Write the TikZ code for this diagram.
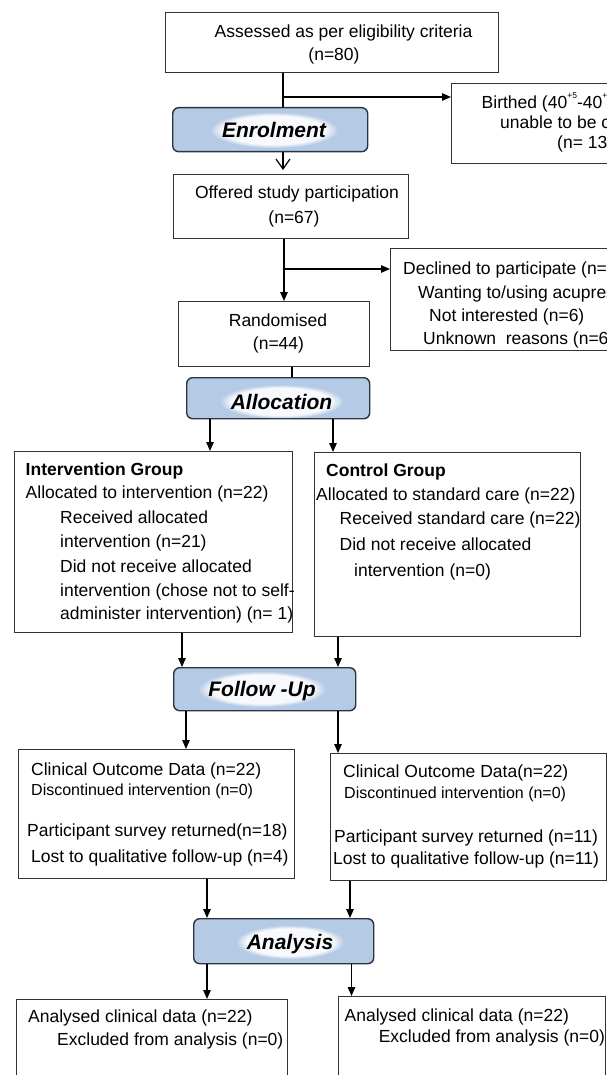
\documentclass[tikz,border=0pt]{standalone}
\usepackage{fontspec}
\setmainfont{Liberation Sans}
\usetikzlibrary{arrows.meta,fadings}
\definecolor{stagefill}{HTML}{B5CAE5}
\definecolor{stageedge}{HTML}{2B3340}
\definecolor{boxedge}{HTML}{333333}
% small raised index used in the gestation range
\newcommand{\gestsup}[1]{\raisebox{0.62em}{\fontsize{8.5}{8.5}\selectfont #1}}

\begin{document}
\begin{tikzpicture}[x=1pt,y=-1pt,
  box/.style 2 args={draw=boxedge, line width=0.9pt, fill=white, anchor=north west,
    inner sep=0pt, minimum width=#1, minimum height=#2},
  stage/.style 2 args={draw=stageedge, line width=1.4pt, fill=stagefill, rounded corners=6pt,
    anchor=north west, inner sep=0pt, minimum width=#1, minimum height=#2},
  stagetxt/.style={font=\fontsize{21}{25}\selectfont\bfseries\itshape, anchor=base, inner sep=0pt},
  glow/.style={white, opacity=0.9, path fading=circle with fuzzy edge 20 percent},
  txt/.style={font=\fontsize{17.5}{21}\selectfont, anchor=base west, inner sep=0pt},
  txtc/.style={txt, anchor=base},
  small/.style={txt, font=\fontsize{16}{19}\selectfont},
  head/.style={txt, font=\fontsize{17.5}{21}\selectfont\bfseries},
  link/.style={line width=1.2pt},
  arr/.style={line width=1.2pt, -{Triangle[length=9pt,width=7.5pt]}},
  barb/.style={line width=1.2pt, -{Straight Barb[length=10pt,width=14pt]}, shorten >=4pt}
]
\fill[white] (0,0) rectangle (607,1075);
\useasboundingbox (0,0) rectangle (607,1075);

% ---------- boxes ----------
\node[box={333pt}{60pt}]    (top)      at (165,12)   {};
\node[box={200pt}{80pt}]    (birthed)  at (451,83)   {};
\node[box={235pt}{64pt}]    (offered)  at (173,174)  {};
\node[box={250pt}{102pt}]   (declined) at (390,248)  {};
\node[box={191pt}{65pt}]    (rand)     at (178,301)  {};
\node[box={278pt}{181pt}]   (interv)   at (13.5,451) {};
\node[box={266pt}{184pt}]   (control)  at (313.5,452){};
\node[box={276pt}{129pt}]   (clinL)    at (18,749)   {};
\node[box={275.5pt}{127pt}] (clinR)    at (330,753)  {};
\node[box={271.5pt}{110pt}] (resL)     at (15.5,999) {};
\node[box={267.5pt}{110pt}] (resR)     at (337.5,996){};

% ---------- stage headers ----------
\node[stage={195pt}{44pt}] (enrol) at (172,107) {};
\fill[glow] (274,130) ellipse [x radius=64, y radius=18];
\node[stagetxt] (enrolT) at (274,137.5) {Enrolment};

\node[stage={183pt}{41pt}] (alloc) at (186,377) {};
\fill[glow] (281.5,401.5) ellipse [x radius=62, y radius=17];
\node[stagetxt] (allocT) at (281.5,409) {Allocation};

\node[stage={182pt}{43pt}] (fu) at (173,667) {};
\fill[glow] (262,689) ellipse [x radius=64, y radius=18];
\node[stagetxt] (fuT) at (262,696.5) {Follow -Up};

\node[stage={180pt}{45pt}] (anal) at (193,918) {};
\fill[glow] (290,942) ellipse [x radius=54, y radius=17];
\node[stagetxt] (analT) at (290,949.5) {Analysis};

% ---------- texts ----------
\node[txtc] (t1) at (343.5,38) {Assessed as per eligibility criteria};
\node[txtc] (t2) at (334,61) {(n=80)};

\node[txt] (b1) at (481.5,109) {Birthed (40\gestsup{+5}-40\gestsup{+7} weeks) or};
\node[txt] (b2) at (500,129) {unable to be contacted};
\node[txt] (b3) at (557,149) {(n= 13)};

\node[txtc] (o1) at (297,199) {Offered study participation};
\node[txtc] (o2) at (294,224) {(n=67)};

\node[txt] (d1) at (403,274) {Declined to participate (n=23)};
\node[txt] (d2) at (418,298) {Wanting to/using acupressure (n=11)};
\node[txt] (d3) at (429,321) {Not interested (n=6)};
\node[txt] (d4) at (423,344) {Unknown\ \ reasons (n=6)};

\node[txtc] (r1) at (278,326) {Randomised};
\node[txtc] (r2) at (278.5,349) {(n=44)};

\node[head] (i0) at (25.5,475.3) {Intervention Group};
\node[txt]  (i1) at (25.5,498.7) {Allocated to intervention (n=22)};
\node[txt]  (i2) at (60,523.7)   {Received allocated};
\node[txt]  (i3) at (60,547.7)   {intervention (n=21)};
\node[txt]  (i4) at (60,572.7)   {Did not receive allocated};
\node[txt]  (i5) at (60,596)     {intervention (chose not to self-};
\node[txt]  (i6) at (60,619.3)   {administer intervention) (n= 1)};

\node[head] (k0) at (326,476)    {Control Group};
\node[txt]  (k1) at (316,500.3)  {Allocated to standard care (n=22)};
\node[txt]  (k2) at (339.5,524.3){Received standard care (n=22)};
\node[txt]  (k3) at (339.5,550)  {Did not receive allocated};
\node[txt]  (k4) at (354,576)    {intervention (n=0)};

\node[txt]   (l1) at (31,775.3)  {Clinical Outcome Data (n=22)};
\node[small] (l2) at (31,795.5)  {Discontinued intervention (n=0)};
\node[txt]   (l3) at (27,836)    {Participant survey returned(n=18)};
\node[txt]   (l4) at (31,862)    {Lost to qualitative follow-up (n=4)};

\node[txt]   (m1) at (343,777.7) {Clinical Outcome Data(n=22)};
\node[small] (m2) at (344,798.8) {Discontinued intervention (n=0)};
\node[txt]   (m3) at (334,842.7) {Participant survey returned (n=11)};
\node[txt]   (m4) at (333,864.3) {Lost to qualitative follow-up (n=11)};

\node[txt] (a1) at (28,1022.7)   {Analysed clinical data (n=22)};
\node[txt] (a2) at (57,1045.3)   {Excluded from analysis (n=0)};
\node[txt] (a3) at (344.5,1021)  {Analysed clinical data (n=22)};
\node[txt] (a4) at (378.6,1042.7){Excluded from analysis (n=0)};

% ---------- connector columns ----------
\coordinate (colA) at (283,0);
\coordinate (colB) at (284,0);
\coordinate (colC) at (292,0);
\coordinate (colD) at (210,0);
\coordinate (colE) at (333,0);
\coordinate (colF) at (182,0);
\coordinate (colG) at (338,0);
\coordinate (colH) at (186,0);
\coordinate (colI) at (207,0);
\coordinate (colJ) at (350,0);
\coordinate (colK) at (351.5,0);
\coordinate (forkA) at (283,97);
\coordinate (forkB) at (284,269);

% ---------- connectors ----------
\draw[link] (top.south -| colA) -- (enrol.north -| colA);
\draw[arr]  (forkA) -- (forkA -| birthed.west);
\draw[barb] (enrol.south -| colA) -- (offered.north -| colA);
\draw[arr]  (offered.south -| colB) -- (rand.north -| colB);
\draw[arr]  (forkB) -- (forkB -| declined.west);
\draw[link] (rand.south -| colC) -- (alloc.north -| colC);
\draw[arr]  (alloc.south -| colD) -- (interv.north -| colD);
\draw[arr]  (alloc.south -| colE) -- (control.north -| colE);
\draw[arr]  (interv.south -| colF) -- (fu.north -| colF);
\draw[arr]  (control.south -| colG) -- (fu.north -| colG);
\draw[arr]  (fu.south -| colH) -- (clinL.north -| colH);
\draw[arr]  (fu.south -| colG) -- (clinR.north -| colG);
\draw[arr]  (clinL.south -| colI) -- (anal.north -| colI);
\draw[arr]  (clinR.south -| colJ) -- (anal.north -| colJ);
\draw[arr]  (anal.south -| colI) -- (resL.north -| colI);
\draw[arr]  (anal.south -| colK) -- (resR.north -| colK);
\end{tikzpicture}
\end{document}
